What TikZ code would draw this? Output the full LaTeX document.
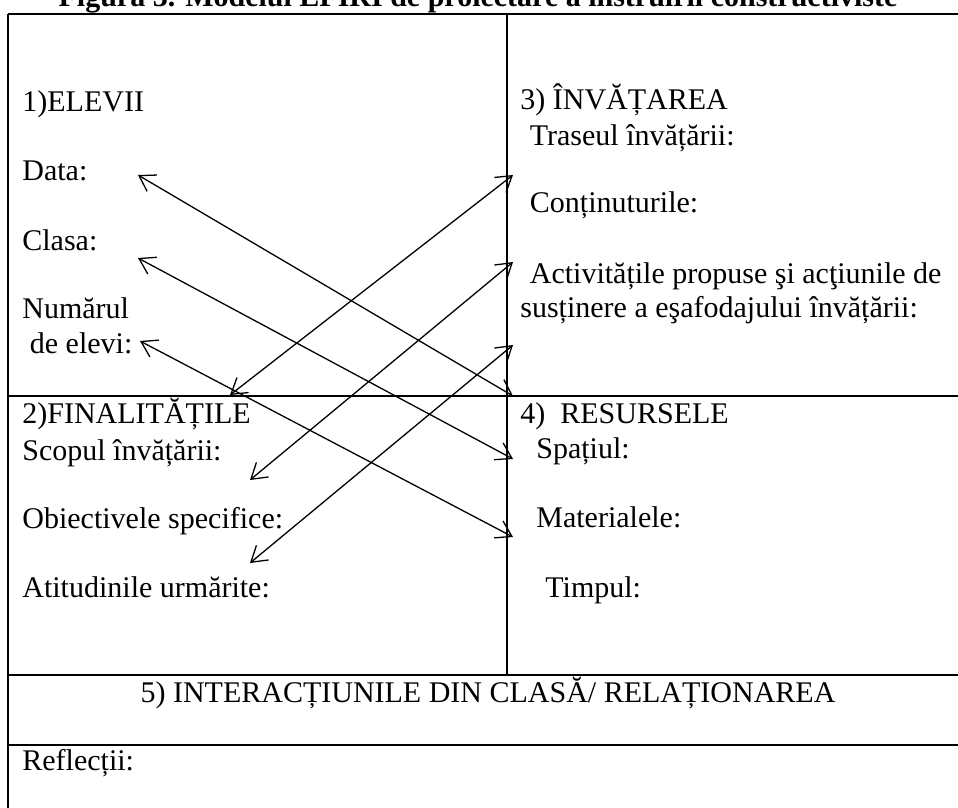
\documentclass[tikz,border=0pt]{standalone}
\usepackage{fontspec}
\setmainfont{Liberation Serif}
\usetikzlibrary{arrows.meta}
\begin{document}
\begin{tikzpicture}[x=0.5pt,y=-0.5pt,
  frame/.style={line width=1pt},
  thinframe/.style={line width=0.65pt},
  barb/.tip={Straight Barb[length=7.5pt,width=9.5pt,line width=0.65pt]},
  link/.style={line width=0.65pt,barb-barb},
  lbl/.style={anchor=base west,inner sep=0pt,font=\fontsize{15pt}{18pt}\selectfont},
  heading/.style={anchor=base,inner sep=0pt,font=\bfseries\fontsize{15pt}{18pt}\selectfont}]
\useasboundingbox (0,0) rectangle (958,808);

% title, partly above the frame
\node[heading] (title) at (478,7) {Figura 3. Modelul EFIRI de proiectare a instruirii constructiviste};

% table grid
\draw[frame] (8,14) -- (962,14);
\draw[frame] (8,14) -- (8,812);
\draw[frame] (507,14) -- (507,675);
\draw[thinframe] (8,396) -- (962,396);
\draw[frame] (8,675) -- (962,675);
\draw[frame] (8,745) -- (962,745);

% 1) learners
\node[lbl] (elevii) at (22,112) {1)ELEVII};
\node[lbl] (data) at (22,180) {Data:};
\node[lbl] (clasa) at (22,250) {Clasa:};
\node[lbl] (numarul) at (22,318) {Numărul};
\node[lbl] (nrelevi) at (22,353) {\ de elevi:};

% 2) goals
\node[lbl] (final) at (22,423) {2)FINALITĂȚILE};
\node[lbl] (scopul) at (22,460) {Scopul învățării:};
\node[lbl] (obiective) at (22,528) {Obiectivele specifice:};
\node[lbl] (atitudini) at (22,597) {Atitudinile urmărite:};

% 3) learning
\node[lbl] (invatarea) at (520,110) {3) ÎNVĂȚAREA};
\node[lbl] (traseul) at (522,146) {\ Traseul învățării:};
\node[lbl] (continut) at (522,213) {\ Conținuturile:};
\node[lbl] (activ) at (522,283) {\ Activitățile propuse şi acţiunile de};
\node[lbl] (sustinere) at (520,317) {susținere a eşafodajului învățării:};

% 4) resources
\node[lbl] (resurse) at (520,423) {4)\ \ RESURSELE};
\node[lbl] (spatiul) at (536,458) {Spațiul:};
\node[lbl] (materiale) at (536,527) {Materialele:};
\node[lbl] (timpul) at (545,597) {Timpul:};

% 5) interactions and reflections
\node[lbl,anchor=base] (interact) at (488,702) {5) INTERACȚIUNILE DIN CLASĂ/ RELAȚIONAREA};
\node[lbl] (reflectii) at (22,770) {Reflecții:};

% arrow end points
\coordinate (pData) at (138,175);
\coordinate (pClasa) at (138,258);
\coordinate (pElevi) at (140,341);
\coordinate (pRes) at (513,396);
\coordinate (pSpatiu) at (513,459);
\coordinate (pMat) at (513,537);
\coordinate (pTraseu) at (513,175);
\coordinate (pCont) at (513,262);
\coordinate (pActiv) at (513,345);
\coordinate (pFinal) at (230,395);
\coordinate (pScop) at (250,480);
\coordinate (pObiect) at (250,563);

% crossing links
\draw[link] (pData) -- (pRes);
\draw[link] (pClasa) -- (pSpatiu);
\draw[link] (pElevi) -- (pMat);
\draw[link] (pFinal) -- (pTraseu);
\draw[link] (pScop) -- (pCont);
\draw[link] (pObiect) -- (pActiv);
\end{tikzpicture}
\end{document}
